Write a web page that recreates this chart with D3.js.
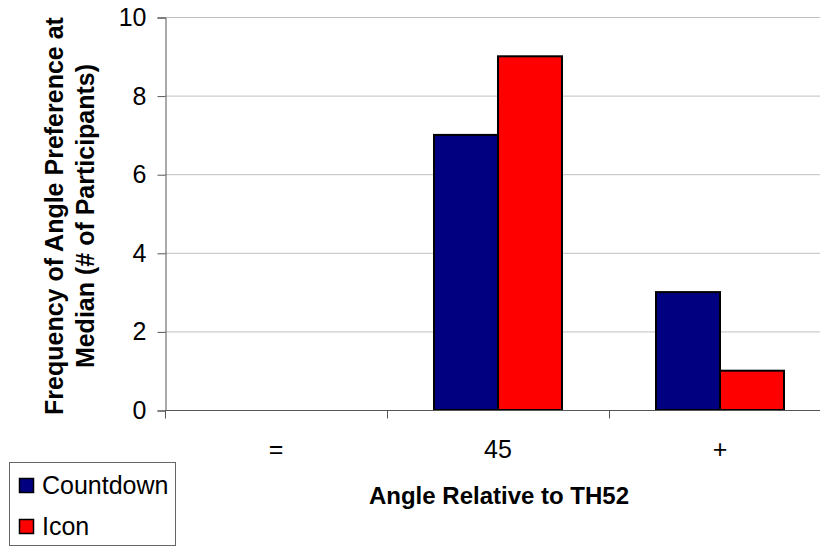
<!DOCTYPE html>
<html>
<head>
<meta charset="utf-8">
<script src="https://cdn.jsdelivr.net/npm/d3@7"></script>
<style>
html,body{margin:0;padding:0;background:#fff;overflow:hidden;}
text{font-family:"Liberation Sans",Arial,sans-serif;}
</style>
</head>
<body>
<svg id="chart" width="820" height="546"></svg>
<script>
const categories = ["=", "45", "+"];
const seriesNames = ["Countdown", "Icon"];
const countdownValues = [0, 7, 3];
const iconValues = [0, 9, 1];
const yTicks = [0, 2, 4, 6, 8, 10];
const colors = ["#000080", "#FF0000"];

(function () {
const svg = d3.select("#chart");
const pLeft = 165, pRight = 831, pTop = 17, pBottom = 410;
const FS = 25;

const x0 = d3.scaleBand().domain(categories).range([pLeft, pRight]).paddingInner(0).paddingOuter(0);
const groupW = 128;
const x1 = d3.scaleBand().domain(seriesNames).range([0, groupW]).padding(0);
const y = d3.scaleLinear().domain([0, 10]).range([pBottom, pTop]);

// gridlines
svg.append("g").selectAll("line").data(yTicks.filter(d => d > 0)).join("line")
  .attr("x1", pLeft).attr("x2", pRight)
  .attr("y1", d => y(d) + 0.5).attr("y2", d => y(d) + 0.5)
  .attr("stroke", "#c0c0c0").attr("stroke-width", 1);

// bars
const data = categories.map((c, i) => ({cat: c, vals: [countdownValues[i], iconValues[i]]}));
const g = svg.append("g").selectAll("g").data(data).join("g")
  .attr("transform", d => `translate(${x0(d.cat) + (x0.bandwidth() - groupW) / 2},0)`);
g.selectAll("rect").data(d => d.vals.map((v, j) => ({name: seriesNames[j], v, j})).filter(e => e.v > 0)).join("rect")
  .attr("x", d => x1(d.name)).attr("width", x1.bandwidth())
  .attr("y", d => y(d.v)).attr("height", d => y(0) - y(d.v))
  .attr("fill", d => colors[d.j]).attr("stroke", "#000").attr("stroke-width", 2);

// y axis
const yAxis = d3.axisLeft(y).tickValues(yTicks).tickSize(8).tickPadding(11).tickFormat(d3.format("d"));
const ya = svg.append("g").attr("transform", `translate(${pLeft + 0.5},0.5)`).call(yAxis);
ya.select(".domain").attr("stroke", "#555");
ya.selectAll(".tick line").attr("stroke", "#555");
ya.selectAll("text").attr("font-size", FS).attr("fill", "#000").attr("font-family", "Liberation Sans, Arial, sans-serif");

// x axis
const xAxis = d3.axisBottom(x0).tickSize(0).tickPadding(30);
const xa = svg.append("g").attr("transform", `translate(0,${pBottom + 0.5})`).call(xAxis);
xa.select(".domain").attr("stroke", "#555").attr("d", `M${pLeft},0H${pRight}`);
xa.selectAll(".tick text").attr("font-size", FS).attr("fill", "#000").attr("dy", null)
  .attr("y", 47.5).attr("font-family", "Liberation Sans, Arial, sans-serif");
const seps = categories.map(c => x0(c)).concat([pRight]);
xa.append("g").selectAll("line").data(seps).join("line")
  .attr("x1", d => Math.round(d) + 0.5).attr("x2", d => Math.round(d) + 0.5)
  .attr("y1", 0).attr("y2", 8).attr("stroke", "#555");

// y title
const yt = svg.append("text").attr("transform", `translate(0,216) rotate(-90)`)
  .attr("text-anchor", "middle").attr("font-weight", "bold").attr("font-size", FS).attr("fill", "#000");
yt.append("tspan").attr("x", 0).attr("y", 63).text("Frequency of Angle Preference at");
yt.append("tspan").attr("x", 0).attr("y", 94).text("Median (# of Participants)");

// x title
svg.append("text").attr("x", 499).attr("y", 504).attr("text-anchor", "middle")
  .attr("font-weight", "bold").attr("font-size", 24).attr("fill", "#000").text("Angle Relative to TH52");

// legend
const lg = svg.append("g");
lg.append("rect").attr("x", 9.5).attr("y", 462.5).attr("width", 166).attr("height", 83)
  .attr("fill", "#fff").attr("stroke", "#666").attr("stroke-width", 1);
const items = lg.selectAll("g").data(seriesNames).join("g")
  .attr("transform", (d, i) => `translate(0,${478 + i * 41})`);
items.append("rect").attr("x", 19.5).attr("y", 0.5).attr("width", 14).attr("height", 14)
  .attr("fill", (d, i) => colors[i]).attr("stroke", "#000").attr("stroke-width", 1.5);
items.append("text").attr("x", 42).attr("y", 15.5).attr("font-size", FS).attr("fill", "#000").text(d => d);
})();
</script>
</body>
</html>
